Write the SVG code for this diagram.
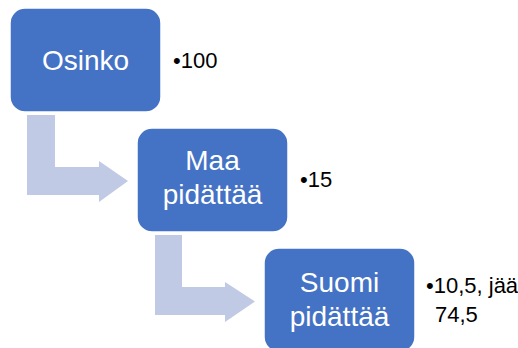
<svg xmlns="http://www.w3.org/2000/svg" width="518" height="348" viewBox="0 0 518 348">
<style>
.box{fill:#4472C4;stroke:#ffffff;stroke-width:1.5}
.arr{fill:#C0CAE4}
.lbl{font-family:"Liberation Sans",Arial,sans-serif;font-size:28px;fill:#ffffff;text-anchor:middle}
.bul{font-family:"Liberation Sans",Arial,sans-serif;font-size:22px;fill:#000000}
</style>
<rect width="518" height="348" fill="#ffffff"/>
<g id="connectors">
<path class="arr" d="M27,115 H55 V167 H99 V161 L128,181 L99,202 V195 H27 Z"/>
<path class="arr" d="M155,235 H182 V287 H225 V282 L255,301.5 L225,322 V315 H155 Z"/>
</g>
<g id="osinko">
<rect class="box" x="10" y="8" width="151" height="104" rx="15"/>
<text class="lbl" x="85.5" y="70">Osinko</text>
<text class="bul" x="173" y="68">•100</text>
</g>
<g id="maa">
<rect class="box" x="137" y="128" width="151" height="104" rx="15"/>
<text class="lbl" x="212.5" y="170">Maa</text>
<text class="lbl" x="212.5" y="204">pidättää</text>
<text class="bul" x="300" y="187">•15</text>
</g>
<g id="suomi">
<rect class="box" x="264" y="248" width="151" height="104" rx="15"/>
<text class="lbl" x="339.5" y="292">Suomi</text>
<text class="lbl" x="339.5" y="326">pidättää</text>
<text class="bul" x="426" y="293">•10,5, jää</text>
<text class="bul" x="435" y="322">74,5</text>
</g>
</svg>
